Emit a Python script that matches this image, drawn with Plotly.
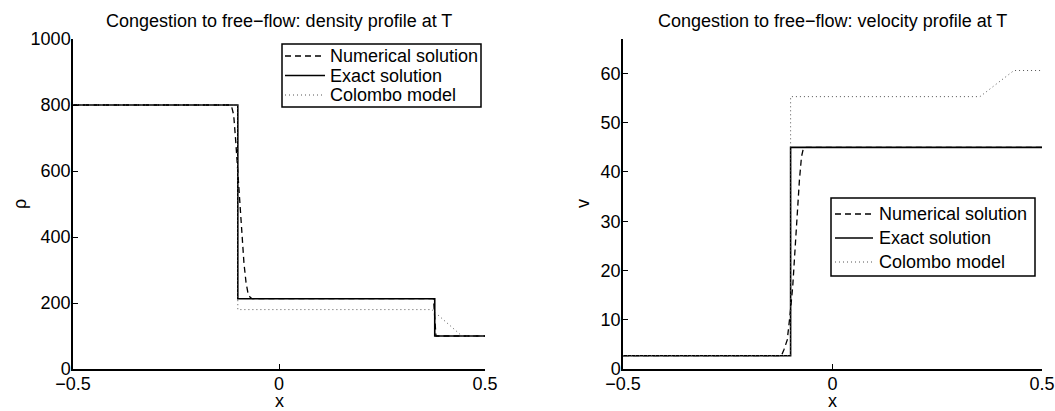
import plotly.graph_objects as go

# ---------------- data ----------------
# Density profile (left)
x_rho_num = [-0.5, -0.12, -0.115, -0.11, -0.105, -0.1, -0.095, -0.09, -0.085, -0.08,
             -0.075, -0.07, -0.065, 0.375, 0.378, 0.381, 0.5]
rho_num = [800, 800, 795, 770, 690, 590, 490, 400, 320, 262, 228, 217, 213, 213, 160, 100, 100]

x_rho_exact = [-0.5, -0.1, -0.1, 0.378, 0.378, 0.5]
rho_exact = [800, 800, 213, 213, 100, 100]

x_rho_col = [-0.5, -0.1, -0.1, 0.371, 0.444, 0.5]
rho_col = [800, 800, 180, 180, 100, 100]

# Velocity profile (right)
x_v_num = [-0.5, -0.122, -0.116, -0.108, -0.101, -0.095, -0.089, -0.084, -0.079,
           -0.074, -0.07, -0.065, 0.5]
v_num = [2.7, 2.7, 3.9, 5.9, 11.3, 16.7, 24.8, 32.9, 38.3, 43.1, 44.6, 45, 45]

x_v_exact = [-0.5, -0.1, -0.1, 0.5]
v_exact = [2.7, 2.7, 45, 45]

x_v_col = [-0.5, -0.1, -0.1, 0.352, 0.433, 0.5]
v_col = [2.7, 2.7, 55.3, 55.3, 60.6, 60.6]

names = ["Numerical solution", "Exact solution", "Colombo model"]
titles = ["Congestion to free\u2212flow: density profile at T",
          "Congestion to free\u2212flow: velocity profile at T"]
rho_ticks = [0, 200, 400, 600, 800, 1000]
v_ticks = [0, 10, 20, 30, 40, 50, 60]
x_ticks = [-0.5, 0, 0.5]

# ---------------- figure ----------------
W, H = 1055, 411
ML, MR, MT, MB = 73, 13, 39, 42
PW, PH = W - ML - MR, H - MT - MB
FONT = "Liberation Sans, Arial, Helvetica, sans-serif"
FS = 18


def px(xp):
    return (xp - ML) / PW


def py(yp):
    return (H - MB - yp) / PH


fig = go.Figure()

styles = [dict(color="black", width=1.3, dash="6px,4px"),
          dict(color="black", width=1.6),
          dict(color="#555555", width=1, dash="1px,3px")]

left = [(x_rho_num, rho_num), (x_rho_exact, rho_exact), (x_rho_col, rho_col)]
right = [(x_v_num, v_num), (x_v_exact, v_exact), (x_v_col, v_col)]

for i, (xs, ys) in enumerate(left):
    fig.add_trace(go.Scatter(x=xs, y=ys, mode="lines", name=names[i], line=styles[i],
                             xaxis="x", yaxis="y", showlegend=False))
for i, (xs, ys) in enumerate(right):
    fig.add_trace(go.Scatter(x=xs, y=ys, mode="lines", name=names[i], line=styles[i],
                             xaxis="x2", yaxis="y2", showlegend=False))

xd1 = [0, px(485)]
xd2 = [px(623), 1]

axis_common = dict(showline=True, linecolor="black", linewidth=1.5, ticks="inside",
                   ticklen=5, tickwidth=1.2, tickcolor="black", showgrid=False,
                   zeroline=False, mirror=False, automargin=False,
                   tickfont=dict(family=FONT, size=FS, color="black"))

fig.update_layout(
    width=W, height=H,
    margin=dict(l=ML, r=MR, t=MT, b=MB),
    paper_bgcolor="white", plot_bgcolor="white",
    font=dict(family=FONT, size=FS, color="black"),
    showlegend=False,
    xaxis=dict(domain=xd1, range=[-0.5, 0.5], tickvals=x_ticks, anchor="y",
               ticklabelstandoff=-2, **axis_common),
    yaxis=dict(domain=[0, 1], range=[0, 1000], tickvals=rho_ticks, anchor="x",
               ticklabelstandoff=-3, **axis_common),
    xaxis2=dict(domain=xd2, range=[-0.5, 0.5], tickvals=x_ticks, anchor="y2",
                ticklabelstandoff=-2, **axis_common),
    yaxis2=dict(domain=[0, 1], range=[0, 67], tickvals=v_ticks, anchor="x2",
                ticklabelstandoff=-3, **axis_common),
)


def ann(text, x, y, xanchor="center", angle=0):
    fig.add_annotation(text=text, x=x, y=y, xref="paper", yref="paper",
                       xanchor=xanchor, yanchor="middle", showarrow=False,
                       textangle=angle, font=dict(family=FONT, size=FS, color="black"))


# titles and axis labels
for t, xc in zip(titles, [279, 832.5]):
    ann(t, px(xc), py(21))
    ann("x", px(xc), py(401))
ann("\u03c1", px(20), py(204), angle=-90)
ann("v", px(583), py(204), angle=-90)

# legends (box, line samples, labels)
legend_specs = [
    dict(box=(282, 481, 44, 107), sample=(285, 325), text_x=328, rows=(56, 75.5, 95)),
    dict(box=(831, 1035, 198, 276), sample=(835, 873), text_x=877, rows=(214, 238, 262)),
]
for spec in legend_specs:
    x0, x1, y0, y1 = spec["box"]
    fig.add_shape(type="rect", xref="paper", yref="paper",
                  x0=px(x0), x1=px(x1), y0=py(y1), y1=py(y0),
                  line=dict(color="black", width=1.5), fillcolor="white", layer="above")
    for i, yr in enumerate(spec["rows"]):
        st = styles[i]
        fig.add_shape(type="line", xref="paper", yref="paper",
                      x0=px(spec["sample"][0]), x1=px(spec["sample"][1]),
                      y0=py(yr), y1=py(yr), layer="above",
                      line=dict(color=st["color"], width=st["width"], dash=st.get("dash", "solid")))
        ann(names[i], px(spec["text_x"]), py(yr), xanchor="left")

fig.write_html("out.html")
